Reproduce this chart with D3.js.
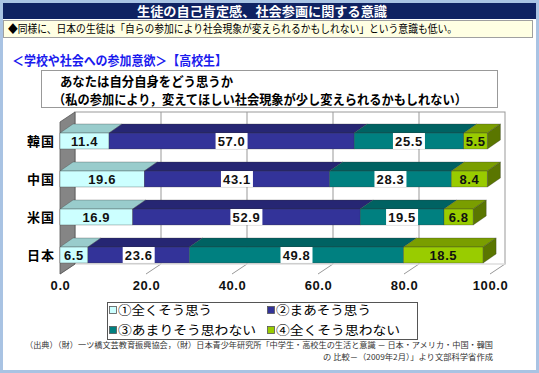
<!DOCTYPE html>
<html>
<head>
<meta charset="utf-8">
<script src="https://cdn.jsdelivr.net/npm/d3@7"></script>
<style>
  body { margin: 0; background: #fff; }
  svg { display: block; }
  .jp { font-family: "Noto Sans CJK JP", sans-serif; }
  .num { font-family: "Liberation Sans", Arial, sans-serif; font-weight: bold; }
</style>
</head>
<body>
<svg id="chart" width="539" height="373"></svg>
<script>
const countries = ["韓国", "中国", "米国", "日本"]
const seriesNames = ["①全くそう思う", "②まあそう思う", "③あまりそう思わない", "④全くそう思わない"]
const s1 = [11.4, 19.6, 16.9, 6.5]
const s2 = [57.0, 43.1, 52.9, 23.6]
const s3 = [25.5, 28.3, 19.5, 49.8]
const s4 = [5.5, 8.4, 6.8, 18.5]
const ticks = [0, 20, 40, 60, 80, 100]

const fronts = ["#ccffff", "#333399", "#008080", "#99cc00"]
const tops = ["#99cccc", "#262673", "#006262", "#7a9e00"]
const sides = ["#7aa6a6", "#1c1c55", "#004848", "#5a7600"]
const boxed = [false, true, true, false]

const svg = d3.select("#chart")

// frame + header
svg.append("rect").attr("x", 1.5).attr("y", 1.5).attr("width", 536).attr("height", 370)
  .attr("fill", "#fff").attr("stroke", "#a9c3e3").attr("stroke-width", 3)
svg.append("rect").attr("x", 3).attr("y", 3).attr("width", 533).attr("height", 16).attr("fill", "#0f2262")
svg.append("text").attr("class", "jp").attr("x", 262).attr("y", 16).attr("text-anchor", "middle")
  .attr("fill", "#fff").attr("font-size", 13).attr("font-weight", "bold")
  .attr("textLength", 250).attr("lengthAdjust", "spacingAndGlyphs")
  .text("生徒の自己肯定感、社会参画に関する意識")
svg.append("rect").attr("x", 3.5).attr("y", 20.5).attr("width", 529).attr("height", 17)
  .attr("fill", "#ffffe3").attr("stroke", "#a0a0a0")
svg.append("text").attr("class", "jp").attr("x", 8).attr("y", 33).attr("font-size", 11)
  .attr("textLength", 449).attr("lengthAdjust", "spacingAndGlyphs")
  .text("◆同様に、日本の生徒は「自らの参加により社会現象が変えられるかもしれない」という意識も低い。")

svg.append("text").attr("class", "jp").attr("x", 12).attr("y", 65).attr("font-size", 13)
  .attr("font-weight", "bold").attr("fill", "#1a1aee")
  .attr("textLength", 215).attr("lengthAdjust", "spacingAndGlyphs")
  .text("＜学校や社会への参加意欲＞【高校生】")

// question box
svg.append("rect").attr("x", 41.5).attr("y", 70.5).attr("width", 456).attr("height", 37)
  .attr("fill", "#fff").attr("stroke", "#999")
svg.append("text").attr("class", "jp").attr("x", 60).attr("y", 86).attr("font-size", 13)
  .attr("font-weight", "bold").attr("textLength", 173).attr("lengthAdjust", "spacingAndGlyphs")
  .text("あなたは自分自身をどう思うか")
svg.append("text").attr("class", "jp").attr("x", 53).attr("y", 104).attr("font-size", 13)
  .attr("font-weight", "bold").attr("textLength", 414).attr("lengthAdjust", "spacingAndGlyphs")
  .text("（私の参加により，変えてほしい社会現象が少し変えられるかもしれない）")

// plot
const x = d3.scaleLinear().domain([0, 100]).range([60, 490])
const y = d3.scaleBand().domain(countries).range([122, 274]).paddingInner(0.58).paddingOuter(0.29)
const wdx = 15, wdy = 10   // wall depth
const bdx = 13, bdy = 9    // bar depth
const yTop = 122, yBot = 274

const g = svg.append("g")
const poly = (pts) => pts.map((p) => p.join(",")).join(" ")

// back wall
g.append("rect").attr("x", x(0) + wdx).attr("y", yTop - wdy).attr("width", x(100) - x(0)).attr("height", yBot - yTop)
  .attr("fill", "#fff").attr("stroke", "#999")
ticks.slice(1, -1).forEach((t) => {
  g.append("line").attr("x1", x(t) + wdx).attr("x2", x(t) + wdx).attr("y1", yTop - wdy).attr("y2", yBot - wdy)
    .attr("stroke", "#999")
})
// floor
ticks.forEach((t) => {
  g.append("line").attr("x1", x(t) + wdx).attr("y1", yBot - wdy).attr("x2", x(t)).attr("y2", yBot)
    .attr("stroke", "#999")
})
g.append("rect").attr("x", x(0) + wdx).attr("y", yBot - wdy - 0.5).attr("width", x(100) - x(0)).attr("height", 1).attr("fill", "#fff")
// left wall
g.append("polygon")
  .attr("points", poly([[x(0), yTop], [x(0) + wdx, yTop - wdy], [x(0) + wdx, yBot - wdy], [x(0), yBot]]))
  .attr("fill", "#858585").attr("stroke", "#555").attr("stroke-width", 0.8)

// bars
const data = countries.map((c, i) => {
  const vals = [s1[i], s2[i], s3[i], s4[i]]
  let acc = 0
  return vals.map((v, k) => {
    const seg = {country: c, k: k, v: v, x0: acc, x1: acc + v}
    acc += v
    return seg
  })
})

data.forEach((segs) => {
  const bar = g.append("g")
  segs.forEach((d) => {
    const y0 = y(d.country), h = y.bandwidth()
    const xa = x(d.x0), xb = x(d.x1)
    bar.append("polygon")
      .attr("points", poly([[xa, y0], [xa + bdx, y0 - bdy], [xb + bdx, y0 - bdy], [xb, y0]]))
      .attr("fill", tops[d.k]).attr("stroke", "#333").attr("stroke-width", 0.3)
    bar.append("rect").attr("x", xa).attr("y", y0).attr("width", xb - xa).attr("height", h)
      .attr("fill", fronts[d.k]).attr("stroke", "#333").attr("stroke-width", 0.3)
    if (d.k === segs.length - 1) {
      bar.append("polygon")
        .attr("points", poly([[xb, y0], [xb + bdx, y0 - bdy], [xb + bdx, y0 + h - bdy], [xb, y0 + h]]))
        .attr("fill", sides[d.k]).attr("stroke", "#333").attr("stroke-width", 0.3)
    }
  })
  segs.forEach((d) => {
    const cx = (x(d.x0) + x(d.x1)) / 2
    const y0 = y(d.country)
    const label = d.v.toFixed(1)
    if (boxed[d.k]) {
      const w = 32
      bar.append("rect").attr("x", cx - w / 2).attr("y", y0).attr("width", w).attr("height", y.bandwidth())
        .attr("fill", "#fff")
    }
    bar.append("text").attr("class", "num").attr("x", cx).attr("y", y0 + y.bandwidth() / 2 + 5)
      .attr("text-anchor", "middle").attr("font-size", 13).attr("letter-spacing", 0.6)
      .attr("fill", "#111").text(label)
  })
})

// category labels
countries.forEach((c) => {
  svg.append("text").attr("class", "jp").attr("x", 55).attr("y", y(c) + y.bandwidth() / 2 + 5)
    .attr("text-anchor", "end").attr("font-size", 13).attr("font-weight", "bold").attr("letter-spacing", 1)
    .text(c)
})

// x axis
const axis = svg.append("g").attr("transform", `translate(0,${yBot + 5})`)
  .call(d3.axisBottom(x).tickValues(ticks).tickFormat(d3.format(".1f")).tickSize(0).tickPadding(2))
axis.select(".domain").remove()
axis.selectAll("text").attr("class", "num").attr("font-size", 13).attr("letter-spacing", 0.6).attr("fill", "#111")

// legend
svg.append("rect").attr("x", 107.5).attr("y", 302.5).attr("width", 310).attr("height", 37)
  .attr("fill", "#fff").attr("stroke", "#555")
const legPos = [[109, 310], [267, 310], [109, 330], [267, 330]]
const legW = [94, 95, 138, 124]
seriesNames.forEach((n, k) => {
  const [lx, ly] = legPos[k]
  svg.append("rect").attr("x", lx + 0.5).attr("y", ly - 3.5).attr("width", 7).attr("height", 7)
    .attr("fill", fronts[k]).attr("stroke", "#555").attr("stroke-width", 0.8)
  svg.append("text").attr("class", "jp").attr("x", lx + 9).attr("y", ly + 4.5).attr("font-size", 12.5)
    .attr("textLength", legW[k]).attr("lengthAdjust", "spacingAndGlyphs")
    .text(n)
})

// source
svg.append("text").attr("class", "jp").attr("x", 25).attr("y", 348)
  .attr("font-size", 8).attr("fill", "#333").attr("textLength", 468).attr("lengthAdjust", "spacingAndGlyphs")
  .text("（出典）（財）一ツ橋文芸教育振興協会，（財）日本青少年研究所「中学生・高校生の生活と意識 － 日本・アメリカ・中国・韓国")
svg.append("text").attr("class", "jp").attr("x", 323).attr("y", 360)
  .attr("font-size", 8).attr("fill", "#333").attr("textLength", 170).attr("lengthAdjust", "spacingAndGlyphs")
  .text("の 比較－（2009年2月）」より文部科学省作成")
</script>
</body>
</html>
